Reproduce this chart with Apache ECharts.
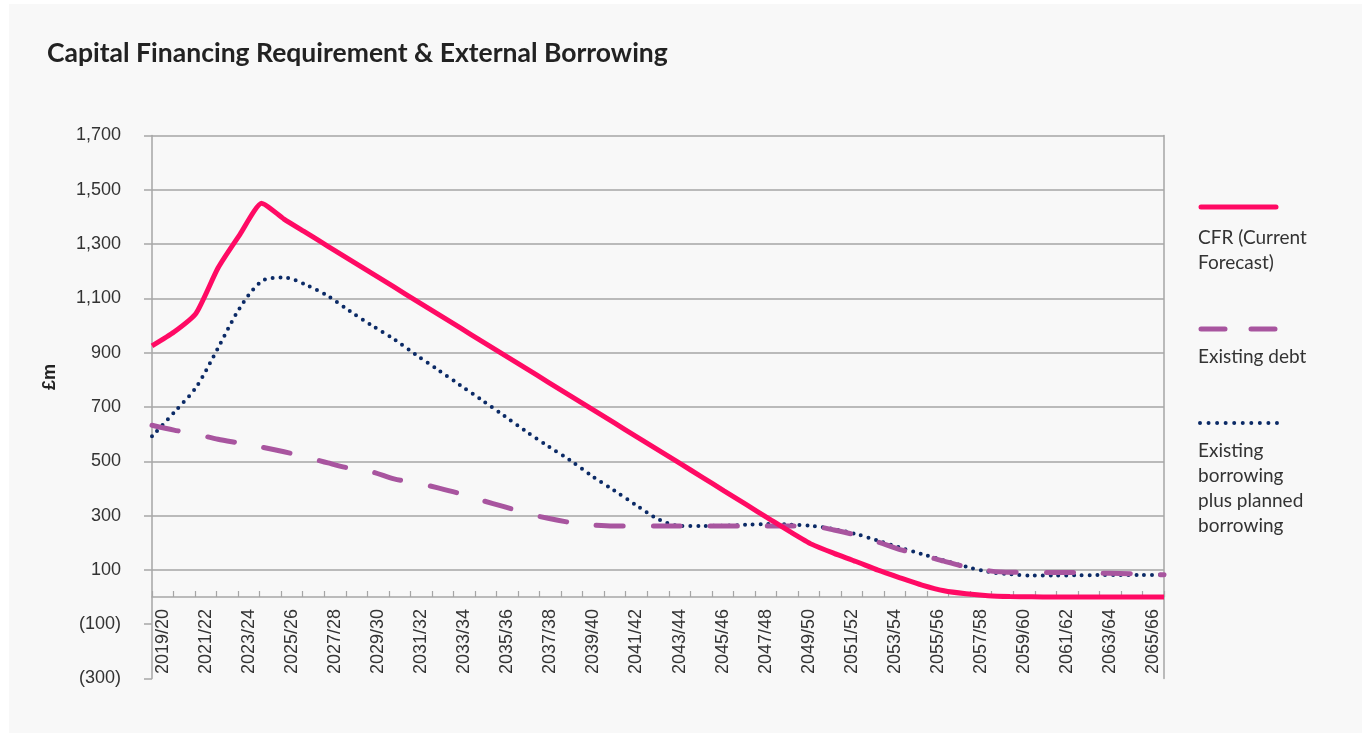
<!DOCTYPE html>
<html>
<head>
<meta charset="utf-8">
<script src="https://cdn.jsdelivr.net/npm/echarts@6/dist/echarts.min.js"></script>
<style>
  html, body { margin: 0; padding: 0; background: #ffffff; }
  #panel { position: absolute; left: 9px; top: 4px; width: 1353px; height: 729px; background: #f8f8f8; }
  #main { position: absolute; left: 0; top: 0; width: 1370px; height: 736px; }
</style>
</head>
<body>
<div id="panel"></div>
<div id="main"></div>
<script>
// years on the category axis
const categories = [
  '2019/20', '2020/21', '2021/22', '2022/23', '2023/24', '2024/25', '2025/26', '2026/27',
  '2027/28', '2028/29', '2029/30', '2030/31', '2031/32', '2032/33', '2033/34', '2034/35',
  '2035/36', '2036/37', '2037/38', '2038/39', '2039/40', '2040/41', '2041/42', '2042/43',
  '2043/44', '2044/45', '2045/46', '2046/47', '2047/48', '2048/49', '2049/50', '2050/51',
  '2051/52', '2052/53', '2053/54', '2054/55', '2055/56', '2056/57', '2057/58', '2058/59',
  '2059/60', '2060/61', '2061/62', '2062/63', '2063/64', '2064/65', '2065/66'
];

// £m
const cfr = [925, 976, 1045, 1212, 1336, 1450, 1392, 1342, 1292, 1242, 1192, 1142, 1092, 1042, 992, 942,
  892, 842, 792, 742, 692, 642, 592, 542, 492, 442, 391, 341, 291, 241, 194, 161,
  131, 99, 71, 44, 23, 12, 5, 2, 1, 0, 0, 0, 0, 0, 0];
const existingDebt = [633, 615, 600, 581, 567, 552, 535, 516, 494, 474, 461, 435, 421, 402, 381, 356,
  333, 309, 290, 275, 266, 262, 262, 262, 262, 262, 262, 262, 262, 262, 261, 247,
  228, 203, 175, 155, 132, 111, 97, 91, 91, 90, 90, 88, 87, 85, 82];
const borrowing = [592, 680, 772, 917, 1066, 1164, 1177, 1150, 1109, 1053, 1000, 950, 892, 837, 781, 725,
  668, 610, 556, 504, 446, 393, 339, 287, 262, 262, 263, 266, 269, 267, 262, 250,
  232, 208, 182, 158, 135, 112, 93, 84, 79, 79, 80, 81, 81, 81, 82];

// y gridlines (only above zero)
const gridValues = [100, 300, 500, 700, 900, 1100, 1300, 1500, 1700];

const RED = '#ff0a64';
const PURPLE = '#a8559f';
const NAVY = '#0b2a66';
const GREY = '#a6a6a6';

function fmt(v) {
  const s = String(Math.abs(v)).replace(/\B(?=(\d{3})+(?!\d))/g, ',');
  return v < 0 ? '(' + s + ')' : s;
}

const myChart = echarts.init(document.getElementById('main'));
myChart.setOption({
  backgroundColor: 'transparent',
  animation: false,
  title: {
    text: 'Capital Financing Requirement & External Borrowing',
    left: 47,
    top: 40,
    padding: 0,
    textStyle: { fontFamily: 'Lato', fontWeight: 'bold', fontSize: 26.5, color: '#222' }
  },
  grid: [
    // plot area (-300 .. 1700)
    { left: 152, right: 206, top: 135.5, bottom: 57.5, containLabel: false, outerBoundsMode: 'none' },
    // category axis sitting on the zero line (y = 597)
    { left: 152, right: 206, top: 135.5, bottom: 139, containLabel: false, outerBoundsMode: 'none' }
  ],
  xAxis: [
    {
      // lines run edge to edge
      type: 'category',
      gridIndex: 0,
      data: categories,
      boundaryGap: false,
      show: false
    },
    {
      type: 'category',
      gridIndex: 1,
      position: 'bottom',
      data: categories,
      boundaryGap: true,
      axisLine: { onZero: false, lineStyle: { color: GREY, width: 1.5 } },
      axisTick: { show: true, inside: true, length: 6, interval: 0, lineStyle: { color: GREY, width: 1.2 } },
      axisLabel: {
        interval: 1, rotate: 90, margin: 12,
        fontFamily: 'Liberation Sans', fontSize: 18, color: '#333'
      },
      splitLine: { show: false }
    }
  ],
  yAxis: [
    {
      type: 'value',
      gridIndex: 0,
      min: -300, max: 1700, interval: 200,
      axisLine: { show: true, lineStyle: { color: GREY, width: 1.5 } },
      axisTick: { show: true, length: 8, lineStyle: { color: GREY, width: 1.5 } },
      axisLabel: { margin: 31, formatter: fmt, fontFamily: 'Liberation Sans', fontSize: 18, color: '#333' },
      splitLine: { show: false }
    },
    {
      type: 'value',
      gridIndex: 0,
      position: 'right',
      min: -300, max: 1700, interval: 200,
      axisLine: { show: true, lineStyle: { color: GREY, width: 1.5 } },
      axisTick: { show: false },
      axisLabel: { show: false },
      splitLine: { show: false }
    },
    {
      type: 'value',
      gridIndex: 1,
      show: false
    }
  ],
  graphic: [
    { type: 'text', x: 50, y: 377, rotation: Math.PI / 2,
      style: { text: '£m', fontFamily: 'Liberation Sans', fontWeight: 'bold', fontSize: 18, fill: '#222', align: 'center', verticalAlign: 'middle' } },
    // legend
    { type: 'line', shape: { x1: 1201, y1: 207, x2: 1276, y2: 207 },
      style: { stroke: RED, lineWidth: 5, lineCap: 'round' } },
    { type: 'text', x: 1198, y: 226,
      style: { text: 'CFR (Current\nForecast)', fontFamily: 'Lato', fontSize: 19, lineHeight: 24.5, fill: '#333', verticalAlign: 'top' } },
    { type: 'line', shape: { x1: 1201, y1: 329, x2: 1276, y2: 329 },
      style: { stroke: PURPLE, lineWidth: 5, lineCap: 'round', lineDash: [24, 26] } },
    { type: 'text', x: 1198, y: 345,
      style: { text: 'Existing debt', fontFamily: 'Lato', fontSize: 19, lineHeight: 24.5, fill: '#333', verticalAlign: 'top' } },
    { type: 'line', shape: { x1: 1200, y1: 423, x2: 1277, y2: 423 },
      style: { stroke: NAVY, lineWidth: 4, lineCap: 'round', lineDash: [0, 8.55] } },
    { type: 'text', x: 1198, y: 438,
      style: { text: 'Existing\nborrowing\nplus planned\nborrowing', fontFamily: 'Lato', fontSize: 19, lineHeight: 25, fill: '#333', verticalAlign: 'top' } }
  ],
  series: [
    {
      name: 'grid',
      type: 'line',
      xAxisIndex: 0,
      yAxisIndex: 0,
      data: [],
      silent: true,
      markLine: {
        silent: true,
        z: 1,
        symbol: ['none', 'none'],
        label: { show: false },
        lineStyle: { color: GREY, width: 1.5, type: 'solid' },
        data: gridValues.map(v => ({ yAxis: v }))
      }
    },
    {
      name: 'Existing borrowing plus planned borrowing',
      type: 'line',
      xAxisIndex: 0,
      yAxisIndex: 0,
      z: 3,
      data: borrowing,
      smooth: 0.3,
      showSymbol: false,
      lineStyle: { color: NAVY, width: 4, type: [0, 7.8], cap: 'round' }
    },
    {
      name: 'Existing debt',
      type: 'line',
      xAxisIndex: 0,
      yAxisIndex: 0,
      z: 4,
      data: existingDebt,
      smooth: 0.3,
      showSymbol: false,
      lineStyle: { color: PURPLE, width: 5, type: [27, 30], cap: 'round' }
    },
    {
      name: 'CFR (Current Forecast)',
      type: 'line',
      xAxisIndex: 0,
      yAxisIndex: 0,
      z: 5,
      data: cfr,
      smooth: 0.2,
      showSymbol: false,
      lineStyle: { color: RED, width: 5 }
    }
  ]
});
window.onresize = function () {
  myChart.resize();
};
</script>
</body>
</html>
